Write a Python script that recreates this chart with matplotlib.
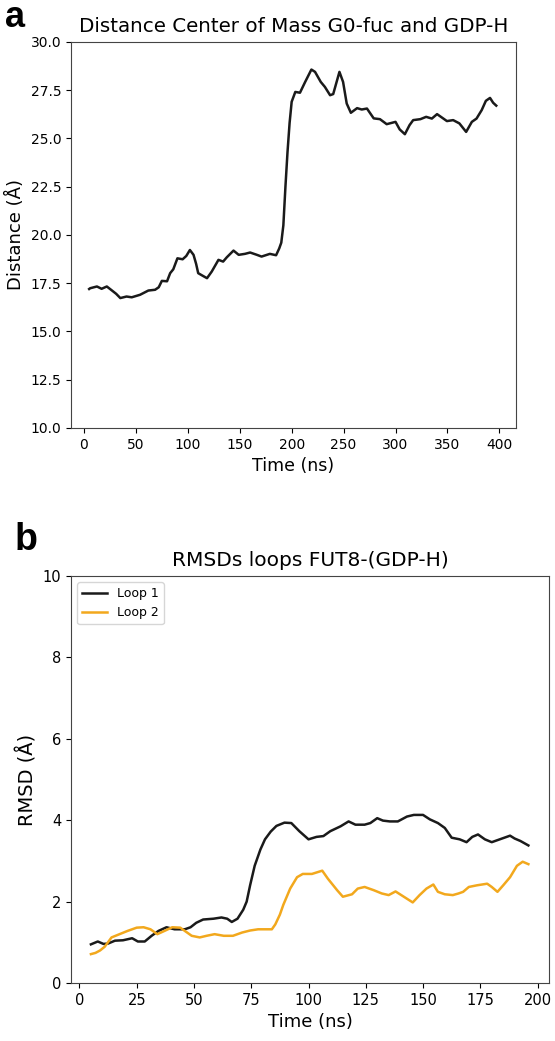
import matplotlib
matplotlib.use('Agg')
import matplotlib.pyplot as plt

# panel a: distance between centres of mass
time_a = [5, 6, 12.5, 17, 22, 27, 31, 35, 41, 46,
          54, 62, 68.5, 72, 75, 80, 83, 86, 90, 95,
          98.5, 102, 105.5, 108, 110, 114.5, 118.5, 123, 129.5, 134,
          137.5, 144, 149, 155, 160, 166.5, 171, 179, 185,
          188, 190, 192, 194, 196, 198, 200, 203.5, 208, 213,
          219, 222.5, 228, 232, 237, 240, 246, 249.5, 253, 257,
          263, 267.5, 272.5, 279, 285, 291.5, 296.5, 300, 304, 309,
          313.5, 317, 324, 329.5, 335, 340, 344.5, 349.5, 355.5, 361.5,
          368, 373.5, 378, 383, 387, 391, 394, 397]
dist_a = [17.2, 17.24, 17.33, 17.21, 17.33, 17.12, 16.95, 16.73, 16.81, 16.77,
          16.9, 17.12, 17.16, 17.29, 17.62, 17.6, 18.02, 18.22, 18.79, 18.74,
          18.91, 19.22, 18.97, 18.5, 18.02, 17.88, 17.76, 18.1, 18.71, 18.62,
          18.84, 19.19, 18.97, 19.02, 19.09, 18.97, 18.88, 19.02, 18.95,
          19.3, 19.6, 20.5, 22.5, 24.3, 25.8, 26.9, 27.41, 27.37, 27.93,
          28.57, 28.45, 27.93, 27.67, 27.24, 27.3, 28.45, 27.93, 26.81, 26.33,
          26.57, 26.5, 26.55, 26.04, 26.0, 25.74, 25.81, 25.86, 25.47, 25.22,
          25.69, 25.95, 26.0, 26.12, 26.03, 26.26, 26.09, 25.9, 25.95, 25.78,
          25.34, 25.86, 26.03, 26.47, 26.95, 27.1, 26.85, 26.7]

# panel b: loop RMSDs
time_loop1 = [5, 8, 10.5, 12.5, 15.5, 19, 23, 25.5, 28.5, 31.5,
              34.5, 38, 41.5, 46, 48.5, 51, 54, 58.5, 62, 64.5,
              66.5, 69, 71.5, 73, 74.5, 76.5, 79, 81, 83.5, 86,
              89.5, 92.5, 96, 100, 103.5, 106.5, 109.5, 114, 117.5, 120.5,
              124.5, 127, 130, 132.5, 135.5, 139, 143, 146, 150, 153,
              156.5, 159.5, 162.5, 166, 169, 171.5, 174, 177, 180, 183.5,
              188, 190, 192.5, 196]
rmsd_loop1 = [0.95, 1.02, 0.96, 0.97, 1.04, 1.05, 1.10, 1.02, 1.02, 1.16,
              1.28, 1.37, 1.32, 1.32, 1.37, 1.48, 1.56, 1.58, 1.61, 1.58,
              1.50, 1.58, 1.80, 2.0, 2.4, 2.88, 3.28, 3.53, 3.72, 3.86,
              3.94, 3.93, 3.73, 3.53, 3.59, 3.61, 3.73, 3.85, 3.97, 3.89,
              3.89, 3.93, 4.05, 3.99, 3.97, 3.97, 4.09, 4.13, 4.13, 4.02,
              3.93, 3.81, 3.57, 3.53, 3.46, 3.59, 3.65, 3.53, 3.46, 3.53,
              3.62, 3.55, 3.49, 3.38]
time_loop2 = [5, 7, 9, 11, 14, 17.5, 21, 25, 28, 31,
              34, 37.5, 40.5, 44, 46.5, 49, 52.5, 55.5, 59, 63,
              67, 71, 74.5, 78, 82, 84, 85.5, 87.5, 89, 92,
              95, 97.5, 101.5, 106, 108.5, 112.5, 115, 119, 121.5, 124.5,
              128.5, 132, 135, 138, 140.5, 145.5, 148.5, 151.5, 154.5, 156.5,
              159.5, 163, 165.5, 167.5, 170, 173.5, 178, 180, 182.5, 185,
              188, 191, 193.5, 196]
rmsd_loop2 = [0.71, 0.74, 0.80, 0.89, 1.12, 1.20, 1.28, 1.36, 1.37, 1.32,
              1.20, 1.29, 1.37, 1.36, 1.26, 1.16, 1.12, 1.16, 1.20, 1.16,
              1.16, 1.24, 1.29, 1.32, 1.32, 1.32, 1.44, 1.68, 1.92, 2.32,
              2.60, 2.68, 2.68, 2.76, 2.56, 2.28, 2.12, 2.18, 2.32, 2.36,
              2.28, 2.20, 2.16, 2.25, 2.16, 1.98, 2.16, 2.32, 2.42, 2.24,
              2.18, 2.16, 2.20, 2.24, 2.36, 2.40, 2.44, 2.36, 2.24, 2.40,
              2.60, 2.88, 2.98, 2.92]

fig = plt.figure(figsize=(5.55, 10.41), dpi=100)

# upper panel
ax1 = fig.add_axes([0.1279, 0.5889, 0.8018, 0.3708])
ax1.plot(time_a, dist_a, color='#1a1a1a', lw=1.8)
ax1.set_xlim(-12.5, 416)
ax1.set_ylim(10, 30)
ax1.set_xticks(range(0, 401, 50))
yt = [10, 12.5, 15, 17.5, 20, 22.5, 25, 27.5, 30]
ax1.set_yticks(yt)
ax1.set_yticklabels(['%.1f' % v for v in yt])
ax1.set_title('Distance Center of Mass G0-fuc and GDP-H', fontsize=14.3, pad=7)
ax1.set_xlabel('Time (ns)', fontsize=12.5)
ax1.set_ylabel('Distance (Å)', fontsize=13)
ax1.tick_params(labelsize=10)

# lower panel
ax2 = fig.add_axes([0.1279, 0.0557, 0.8613, 0.3910])
ax2.plot(time_loop1, rmsd_loop1, color='#1a1a1a', lw=1.8, label='Loop 1')
ax2.plot(time_loop2, rmsd_loop2, color='#f2a81d', lw=1.8, label='Loop 2')
ax2.set_xlim(-3.7, 205)
ax2.set_ylim(0, 10)
ax2.set_xticks(range(0, 201, 25))
ax2.set_yticks(range(0, 11, 2))
ax2.set_title('RMSDs loops FUT8-(GDP-H)', fontsize=14.5, pad=7)
ax2.set_xlabel('Time (ns)', fontsize=13)
ax2.set_ylabel('RMSD (Å)', fontsize=14)
ax2.tick_params(labelsize=10.5)
ax2.legend(loc='upper left', fontsize=9)

for ax in (ax1, ax2):
    for s in ax.spines.values():
        s.set_color('#444444')

# panel letters
fig.text(5 / 555, 1 - 27 / 1041, 'a', fontsize=26, fontweight='bold',
         family='Liberation Sans', ha='left', va='baseline')
fig.text(15 / 555, 1 - 550 / 1041, 'b', fontsize=27, fontweight='bold',
         family='Liberation Sans', ha='left', va='baseline')

fig.savefig('out.png', dpi=100)
